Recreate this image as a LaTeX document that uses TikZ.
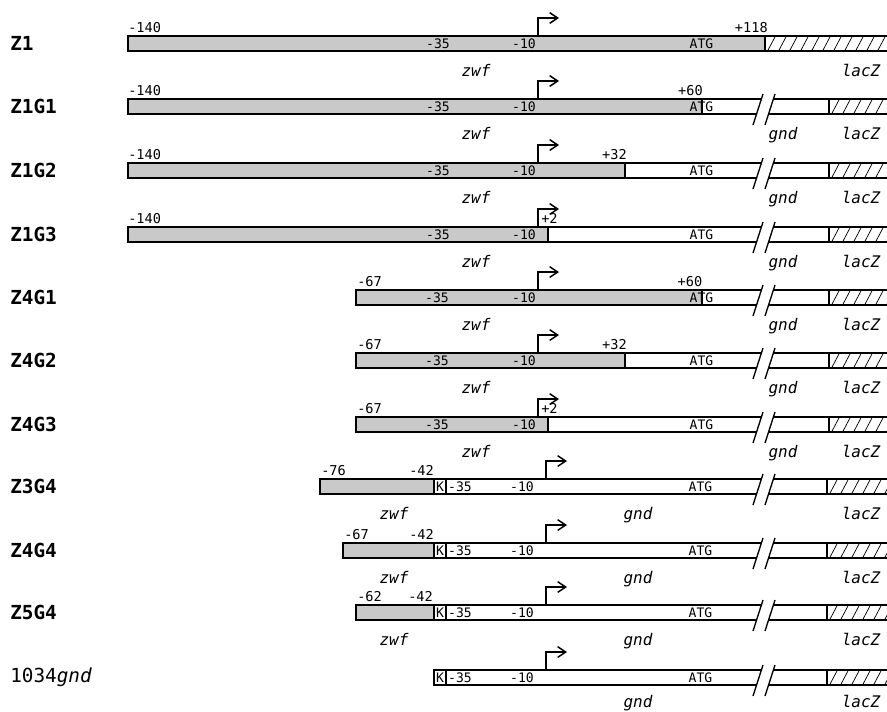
\documentclass[tikz,border=0pt]{standalone}
\usepackage{fontspec}
\newfontfamily\dmono{DejaVu Sans Mono}
\usetikzlibrary{arrows.meta}
\tikzset{
  barline/.style={line width=1.3pt},
  zshade/.style={fill=black!21},
  hatchln/.style={line width=0.55pt},
  slashln/.style={line width=1pt},
  prom/.style={line width=1.1pt, -{Straight Barb[length=6pt,width=8pt]}},
  rowlab/.style={anchor=west, font=\dmono\bfseries\fontsize{14.5}{16}\selectfont, inner sep=0},
  num/.style={font=\dmono\fontsize{10.2}{12}\selectfont, inner sep=0},
  inlab/.style={font=\dmono\fontsize{9.8}{11}\selectfont, inner sep=0},
  gene/.style={font=\dmono\itshape\fontsize{12}{14}\selectfont, inner sep=0, anchor=base},
}
\newcommand{\ZShade}[3]{\fill[zshade] (#1,#3) rectangle (#2,#3+15);}
\newcommand{\ZHatch}[2]{\begin{scope}\clip (#1,#2) rectangle (887,#2+15);
  \foreach \k in {0,...,12} {\draw[hatchln] (#1+\k*11+2,#2+16) -- (#1+\k*11+11,#2-1);}
  \end{scope}}
\newcommand{\ZFrame}[2]{\draw[barline] (887,#2) -- (#1,#2) -- (#1,#2+15) -- (887,#2+15);}
\newcommand{\ZBreakFrame}[2]{\draw[barline] (761.4,#2) -- (#1,#2) -- (#1,#2+15) -- (756.5,#2+15);
  \draw[barline] (773.4,#2) -- (887,#2) (768.5,#2+15) -- (887,#2+15);
  \draw[slashln] (753,#2+26) -- (763,#2-5) (765,#2+26) -- (775,#2-5);}
\newcommand{\ZVline}[2]{\draw[barline] (#1,#2) -- (#1,#2+15);}
\newcommand{\ZProm}[2]{\draw[prom] (#1,#2) -- (#1,#2-18) -- (#1+21,#2-18);}
\begin{document}
\begin{tikzpicture}[x=0.75pt,y=-0.75pt]
\useasboundingbox (0,0) rectangle (887,711);
\fill[white] (0,0) rectangle (887,711);

% ---------- Row 1: Z1 (top 36)
\ZShade{128}{765}{36}
\ZHatch{765}{36}
\ZFrame{128}{36}
\ZVline{765}{36}
\ZProm{538}{36}
\node[rowlab] (l1) at (10,43.5) {Z1};
\node[num, anchor=base west] (a1) at (128,32) {-140};
\node[num, anchor=base east] (b1) at (768,32) {+118};
\node[inlab] (p1) at (438,44) {-35};
\node[inlab] (q1) at (524,44) {-10};
\node[inlab] (s1) at (701.5,44) {ATG};
\node[gene] (z1) at (476,76) {zwf};
\node[gene] (c1) at (861,76) {lacZ};

% ---------- Row 2: Z1G1 (top 99)
\ZShade{128}{702}{99}
\ZHatch{829}{99}
\ZBreakFrame{128}{99}
\ZVline{702}{99}
\ZVline{829}{99}
\ZProm{538}{99}
\node[rowlab] (l2) at (10,106.5) {Z1G1};
\node[num, anchor=base west] (a2) at (128,95) {-140};
\node[num, anchor=base] (b2) at (690.5,95) {+60};
\node[inlab] (p2) at (438,107) {-35};
\node[inlab] (q2) at (524,107) {-10};
\node[inlab] (s2) at (701.5,107) {ATG};
\node[gene] (z2) at (476,139) {zwf};
\node[gene] (g2) at (783,139) {gnd};
\node[gene] (c2) at (861,139) {lacZ};

% ---------- Row 3: Z1G2 (top 163)
\ZShade{128}{625}{163}
\ZHatch{829}{163}
\ZBreakFrame{128}{163}
\ZVline{625}{163}
\ZVline{829}{163}
\ZProm{538}{163}
\node[rowlab] (l3) at (10,170.5) {Z1G2};
\node[num, anchor=base west] (a3) at (128,159) {-140};
\node[num, anchor=base] (b3) at (614.5,159) {+32};
\node[inlab] (p3) at (438,171) {-35};
\node[inlab] (q3) at (524,171) {-10};
\node[inlab] (s3) at (701.5,171) {ATG};
\node[gene] (z3) at (476,203) {zwf};
\node[gene] (g3) at (783,203) {gnd};
\node[gene] (c3) at (861,203) {lacZ};

% ---------- Row 4: Z1G3 (top 227)
\ZShade{128}{548}{227}
\ZHatch{829}{227}
\ZBreakFrame{128}{227}
\ZVline{548}{227}
\ZVline{829}{227}
\ZProm{538}{227}
\node[rowlab] (l4) at (10,234.5) {Z1G3};
\node[num, anchor=base west] (a4) at (128,223) {-140};
\node[num, anchor=base west] (b4) at (541,223) {+2};
\node[inlab] (p4) at (438,235) {-35};
\node[inlab] (q4) at (524,235) {-10};
\node[inlab] (s4) at (701.5,235) {ATG};
\node[gene] (z4) at (476,267) {zwf};
\node[gene] (g4) at (783,267) {gnd};
\node[gene] (c4) at (861,267) {lacZ};

% ---------- Row 5: Z4G1 (top 290)
\ZShade{356}{702}{290}
\ZHatch{829}{290}
\ZBreakFrame{356}{290}
\ZVline{702}{290}
\ZVline{829}{290}
\ZProm{538}{290}
\node[rowlab] (l5) at (10,297.5) {Z4G1};
\node[num, anchor=base west] (a5) at (357,286) {-67};
\node[num, anchor=base] (b5) at (690,286) {+60};
\node[inlab] (p5) at (437,298) {-35};
\node[inlab] (q5) at (524,298) {-10};
\node[inlab] (s5) at (701.5,298) {ATG};
\node[gene] (z5) at (476,330) {zwf};
\node[gene] (g5) at (783,330) {gnd};
\node[gene] (c5) at (861,330) {lacZ};

% ---------- Row 6: Z4G2 (top 353)
\ZShade{356}{625}{353}
\ZHatch{829}{353}
\ZBreakFrame{356}{353}
\ZVline{625}{353}
\ZVline{829}{353}
\ZProm{538}{353}
\node[rowlab] (l6) at (10,360.5) {Z4G2};
\node[num, anchor=base west] (a6) at (357,349) {-67};
\node[num, anchor=base] (b6) at (614.5,349) {+32};
\node[inlab] (p6) at (437,361) {-35};
\node[inlab] (q6) at (524,361) {-10};
\node[inlab] (s6) at (701.5,361) {ATG};
\node[gene] (z6) at (476,393) {zwf};
\node[gene] (g6) at (783,393) {gnd};
\node[gene] (c6) at (861,393) {lacZ};

% ---------- Row 7: Z4G3 (top 417)
\ZShade{356}{548}{417}
\ZHatch{829}{417}
\ZBreakFrame{356}{417}
\ZVline{548}{417}
\ZVline{829}{417}
\ZProm{538}{417}
\node[rowlab] (l7) at (10,424.5) {Z4G3};
\node[num, anchor=base west] (a7) at (357,413) {-67};
\node[num, anchor=base west] (b7) at (541,413) {+2};
\node[inlab] (p7) at (437,425) {-35};
\node[inlab] (q7) at (524,425) {-10};
\node[inlab] (s7) at (701.5,425) {ATG};
\node[gene] (z7) at (476,457) {zwf};
\node[gene] (g7) at (783,457) {gnd};
\node[gene] (c7) at (861,457) {lacZ};

% ---------- Row 8: Z3G4 (top 479)
\ZShade{320}{434}{479}
\ZHatch{827}{479}
\ZBreakFrame{320}{479}
\ZVline{434}{479}
\ZVline{446}{479}
\ZVline{827}{479}
\ZProm{546}{479}
\node[rowlab] (l8) at (10,486.5) {Z3G4};
\node[num, anchor=base west] (a8) at (321,475) {-76};
\node[num, anchor=base west] (b8) at (409,475) {-42};
\node[inlab] (k8) at (440,487) {K};
\node[inlab] (p8) at (460,487) {-35};
\node[inlab] (q8) at (522,487) {-10};
\node[inlab] (s8) at (700.5,487) {ATG};
\node[gene] (z8) at (394,519) {zwf};
\node[gene] (g8) at (638,519) {gnd};
\node[gene] (c8) at (861,519) {lacZ};

% ---------- Row 9: Z4G4 (top 543)
\ZShade{343}{434}{543}
\ZHatch{827}{543}
\ZBreakFrame{343}{543}
\ZVline{434}{543}
\ZVline{446}{543}
\ZVline{827}{543}
\ZProm{546}{543}
\node[rowlab] (l9) at (10,550.5) {Z4G4};
\node[num, anchor=base west] (a9) at (344,539) {-67};
\node[num, anchor=base west] (b9) at (409,539) {-42};
\node[inlab] (k9) at (440,551) {K};
\node[inlab] (p9) at (460,551) {-35};
\node[inlab] (q9) at (522,551) {-10};
\node[inlab] (s9) at (700.5,551) {ATG};
\node[gene] (z9) at (394,583) {zwf};
\node[gene] (g9) at (638,583) {gnd};
\node[gene] (c9) at (861,583) {lacZ};

% ---------- Row 10: Z5G4 (top 605)
\ZShade{356}{434}{605}
\ZHatch{827}{605}
\ZBreakFrame{356}{605}
\ZVline{434}{605}
\ZVline{446}{605}
\ZVline{827}{605}
\ZProm{546}{605}
\node[rowlab] (l10) at (10,612.5) {Z5G4};
\node[num, anchor=base west] (a10) at (357,601) {-62};
\node[num, anchor=base west] (b10) at (408,601) {-42};
\node[inlab] (k10) at (440,613) {K};
\node[inlab] (p10) at (460,613) {-35};
\node[inlab] (q10) at (522,613) {-10};
\node[inlab] (s10) at (700.5,613) {ATG};
\node[gene] (z10) at (394,645) {zwf};
\node[gene] (g10) at (638,645) {gnd};
\node[gene] (c10) at (861,645) {lacZ};

% ---------- Row 11: 1034gnd (top 670)
\ZHatch{827}{670}
\ZBreakFrame{434}{670}
\ZVline{446}{670}
\ZVline{827}{670}
\ZProm{546}{670}
\node[rowlab] (l11) at (10,677.5) {\mdseries 1034\itshape gnd};
\node[inlab] (k11) at (440,678) {K};
\node[inlab] (p11) at (460,678) {-35};
\node[inlab] (q11) at (522,678) {-10};
\node[inlab] (s11) at (700.5,678) {ATG};
\node[gene] (g11) at (638,707) {gnd};
\node[gene] (c11) at (861,707) {lacZ};
\end{tikzpicture}
\end{document}
